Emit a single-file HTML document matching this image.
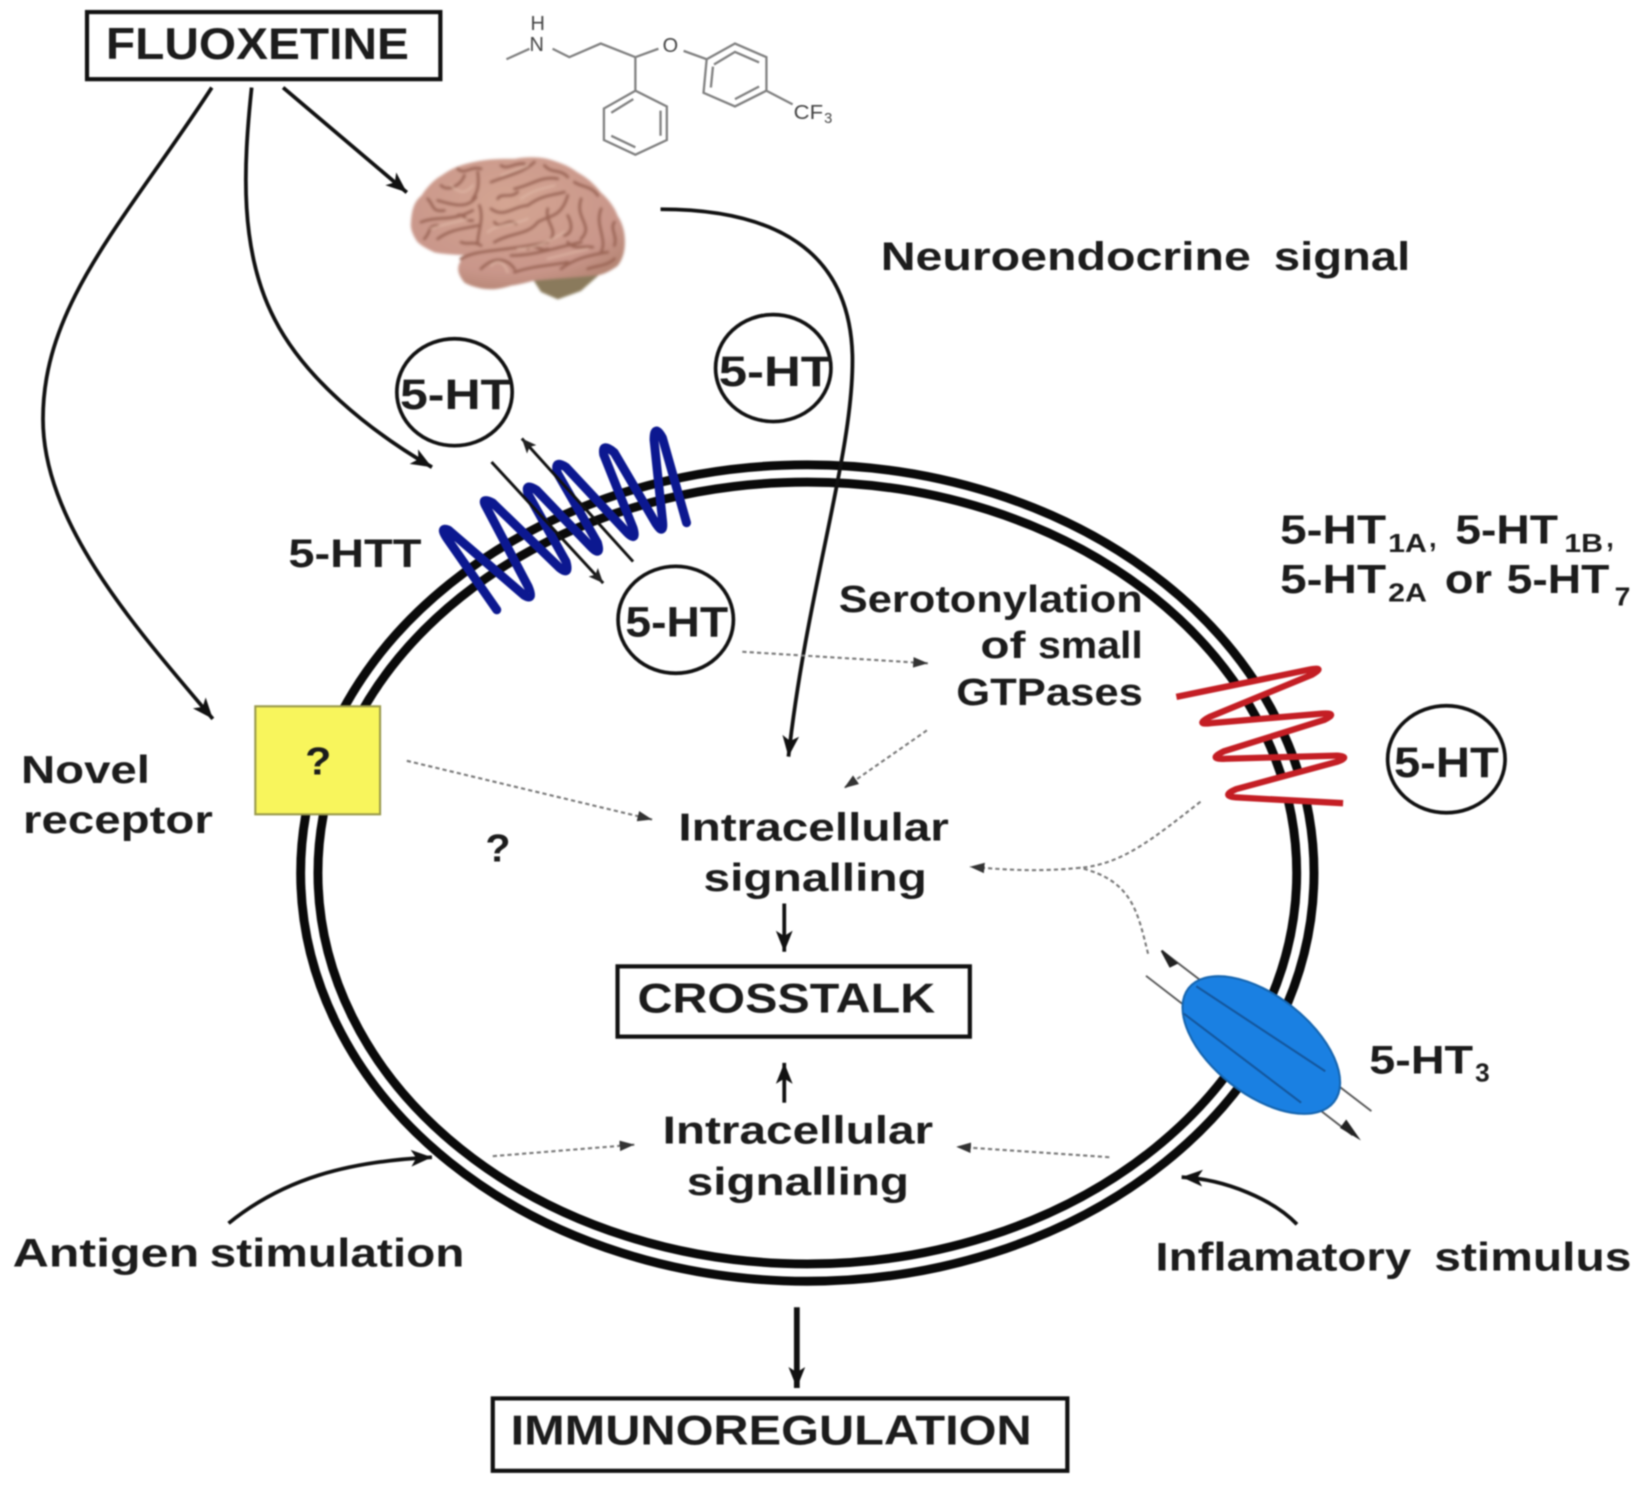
<!DOCTYPE html>
<html><head><meta charset="utf-8"><style>
html,body{margin:0;padding:0;background:#fff}
svg{display:block;filter:blur(.9px)}
text{font-family:"Liberation Sans",Arial,sans-serif;font-weight:bold;fill:#1c1c1c}
</style></head><body>
<svg width="1644" height="1486" viewBox="0 0.5 1568 1417" preserveAspectRatio="none" xmlns="http://www.w3.org/2000/svg">
<defs>
<marker id="a" markerUnits="userSpaceOnUse" markerWidth="24" markerHeight="18" refX="20" refY="8" orient="auto"><path d="M0,0L20,8L0,16L5,8Z" fill="#111"/></marker>
<marker id="s" markerUnits="userSpaceOnUse" markerWidth="16" markerHeight="14" refX="14" refY="6" orient="auto"><path d="M0,0L14,6L0,12L3,6Z" fill="#222"/></marker>
<marker id="d" markerUnits="userSpaceOnUse" markerWidth="16" markerHeight="14" refX="14" refY="5" orient="auto"><path d="M0,0L14,5L0,10Z" fill="#333"/></marker>
<radialGradient id="br" cx=".45" cy=".35" r=".75"><stop offset="0" stop-color="#d4a592"/><stop offset=".7" stop-color="#c9968a"/><stop offset="1" stop-color="#ae7f6c"/></radialGradient>
<filter id="bl" x="-5%" y="-5%" width="110%" height="110%"><feGaussianBlur stdDeviation="1.300"/></filter>
</defs>
<rect x="0" y="0" width="1600" height="1450" fill="#fff"/>

<!-- membrane -->
<ellipse cx="770" cy="833" rx="475" ry="381" fill="none" stroke="#0a0a0a" stroke-width="25"/>
<ellipse cx="770" cy="833" rx="475" ry="381" fill="none" stroke="#fff" stroke-width="8"/>

<!-- molecule -->
<g fill="none" stroke="#808080" stroke-width="2.200">
<path d="M483,57L505,47M527,47L543,55L573,42L606,55L628,47M652,49L674,57L701,42L731,55L731,87L701,102L671,89L674,57M731,87L756,100"/>
<path d="M681,62L701,50L724,60M724,83L701,95M678,84L680,64"/>
<path d="M606,55L606,87L636,102L636,134L606,148L576,134L576,104L606,87"/>
<path d="M630,106L630,130M606,141L583,130M583,108L604,95"/>
</g>
<text x="506" y="29" font-size="19" style="font-weight:normal;fill:#444">H</text><text x="505" y="49" font-size="19" style="font-weight:normal;fill:#444">N</text><text x="632" y="50" font-size="19" style="font-weight:normal;fill:#444">O</text><text x="757" y="114" font-size="19" style="font-weight:normal;fill:#444" textLength="28" lengthAdjust="spacingAndGlyphs">CF</text><text x="786" y="118" font-size="14" style="font-weight:normal;fill:#444">3</text>

<!-- brain -->
<g filter="url(#bl)">
<path d="M509,268L516,279L532,286L554,278L572,262Z" fill="#8a7a5c"/>
<path d="M392,212C393,198 396,192 402,187C408,178 414,172 421,168C432,160 442,157 452,155C465,152 478,152 491,152C502,150 512,150 522,152C532,155 542,158 551,165C560,170 567,176 573,184C580,190 586,198 589,206C594,214 596,222 596,231C596,240 594,248 589,254C582,259 576,262 570,263C550,265 530,266 510,268C502,270 495,272 487,273C478,276 470,277 462,276C455,275 448,273 443,270C439,265 437,261 437,257C437,252 440,248 443,244C433,243 423,243 414,241C408,238 402,235 398,231C394,225 391,219 392,212Z" fill="url(#br)"/>
<g transform="translate(382.500,136) scale(.318)" fill="none" stroke="#9c6656" stroke-width="9" stroke-linecap="round">
<path d="M110,175C160,190 200,200 225,165M230,90C235,130 230,150 215,170M270,120C320,100 370,90 400,60M340,140C390,130 420,100 470,110"/>
<path d="M60,240C110,220 150,240 215,205M110,290C150,260 190,260 230,250M235,190C250,230 230,270 230,300M270,200C310,230 340,190 380,190C420,160 450,160 490,150"/>
<path d="M280,300C330,270 380,280 410,240C440,220 480,230 500,160M180,350C230,320 300,330 440,300M330,340C400,340 450,320 540,300M480,380C520,350 560,340 620,330"/>
<path d="M540,170C520,230 580,250 540,290M600,200C580,250 620,290 600,330M240,380C280,340 320,350 340,380M340,390C400,370 450,370 500,360M120,130C140,150 180,130 190,100M70,290C90,270 80,250 110,250"/>
<path d="M290,170C300,150 330,170 350,150M440,200C430,240 470,260 450,290M490,280C520,270 510,240 500,220M560,380C590,370 620,370 640,350"/>
<path d="M170,80C190,100 210,70 240,80M300,70C320,85 340,60 370,65M430,70C450,95 480,80 500,105M520,120C540,135 570,130 590,160M80,170C100,190 90,210 130,205M170,220C190,210 190,240 215,235M640,240C625,260 650,280 640,310M180,300C200,310 215,295 240,310M280,240C300,265 320,225 345,245M380,320C395,300 420,330 440,320M500,300C520,325 540,310 575,315"/>
</g>
<g transform="translate(382.500,136) scale(.318)" fill="none" stroke="#e2bcaa" stroke-width="6" stroke-linecap="round" opacity=".7">
<path d="M150,130C180,160 200,150 215,130M300,100C340,85 360,80 380,70M360,170C400,140 430,140 460,130M90,260C130,245 170,240 200,230M260,270C300,240 340,250 380,230M350,320C400,320 440,300 490,270M270,370C290,350 310,360 320,390M440,350C480,340 520,330 560,320"/>
</g>
</g>

<!-- solid connectors -->
<g fill="none" stroke="#111" stroke-width="3.600">
<path d="M202,84C120,210 41,290 41,400C41,500 130,600 203,686" marker-end="url(#a)"/>
<path d="M240,84C232,160 228,240 262,305C290,360 350,410 412,446" marker-end="url(#a)"/>
<path d="M270,84L388,184" marker-end="url(#a)"/>
<path d="M630,200C740,200 810,240 813,339C815,430 770,560 752,722" marker-end="url(#a)"/>
<path d="M748,862V908" marker-end="url(#a)"/>
<path d="M748,1052V1014" marker-end="url(#a)"/>
<path d="M760,1247V1324" stroke-width="5.500" marker-end="url(#a)"/>
<path d="M218,1167C270,1125 330,1108 412,1104" marker-end="url(#a)"/>
<path d="M1237,1168C1215,1145 1170,1125 1127,1123" marker-end="url(#a)"/>
</g>

<!-- dashed -->
<g fill="none" stroke="#777" stroke-width="2" stroke-dasharray="4 3">
<path d="M708,622L885,633" marker-end="url(#d)"/>
<path d="M884,697L805,752" marker-end="url(#d)"/>
<path d="M388,726L622,782" marker-end="url(#d)"/>
<path d="M1145,765C1100,800 1070,825 1030,828C990,832 960,830 925,827" marker-end="url(#d)"/>
<path d="M1095,910C1085,870 1080,840 1030,828"/>
<path d="M470,1103L605,1092" marker-end="url(#d)"/>
<path d="M1058,1104L912,1094" marker-end="url(#d)"/>
</g>

<!-- transporter -->
<g transform="translate(1.800,2)">
<path d="M472,580L426,514Q416,500 426,504L498,566Q508,572 502,558L462,482Q456,472 468,478L532,540Q542,548 538,534L502,470Q498,458 510,466L562,520Q572,530 568,516L530,450Q526,436 538,444L596,506Q606,516 602,502L574,432Q572,420 584,430L624,498Q632,510 630,494L622,418Q622,402 630,416L653,497" fill="none" stroke="#0c1890" stroke-width="8.500" stroke-linejoin="round" stroke-linecap="round"/>
<g fill="none" stroke="#111" stroke-width="2.800">
<path d="M467,439L573.500,554.500" marker-end="url(#s)"/>
<path d="M602,534L495.900,416.600" marker-end="url(#s)"/>
</g>
</g>

<!-- red receptor -->
<g transform="translate(-1,-2)">
<path d="M1123,667L1260,640L1145.500,692ZM1145.500,692L1272.600,682.600L1158,725.500ZM1283.800,724L1169,760.700L1282,768.400Z" fill="#fff"/>
<path d="M1123,667L1250,641Q1266,638 1252,646L1155,686Q1140,694 1156,692L1262,683Q1278,682 1264,689L1168,719Q1152,727 1170,726L1276,723Q1290,724 1276,729L1180,755Q1164,762 1182,763L1282,768.400" fill="none" stroke="#c41e24" stroke-width="6" stroke-linejoin="round"/>
</g>

<!-- 5-HT3 -->
<path d="M1108,907L1308,1060" stroke="#555" stroke-width="1.800" fill="none"/>
<path d="M1093,931L1290,1083" stroke="#555" stroke-width="1.800" fill="none"/>
<path d="M1122,919L1108,907L1116,922Z" fill="#222" stroke="#222" stroke-width="2"/>
<path d="M1278,1076L1298,1088L1284,1068Z" fill="#222"/>
<ellipse cx="1203" cy="997" rx="88" ry="47" transform="rotate(38 1203 997)" fill="#1a80e2" stroke="#1565b0" stroke-width="2"/>
<path d="M1141,941L1264,1022M1129,967L1241,1052" stroke="#14569c" stroke-width="2" fill="none"/>

<!-- circles -->
<g transform="translate(1.500,1.500)">
<g fill="none" stroke="#111" stroke-width="3.500">
<ellipse cx="432" cy="373" rx="55" ry="51"/>
<ellipse cx="736" cy="350" rx="55" ry="51"/>
<ellipse cx="643" cy="590" rx="55" ry="51"/>
<ellipse cx="1378" cy="723" rx="56" ry="51"/>
</g>
<text x="380" y="389" font-size="41" textLength="106" lengthAdjust="spacingAndGlyphs">5-HT</text>
<text x="684" y="367" font-size="41" textLength="108" lengthAdjust="spacingAndGlyphs">5-HT</text>
<text x="595" y="606" font-size="41" textLength="98" lengthAdjust="spacingAndGlyphs">5-HT</text>
<text x="1328" y="740" font-size="41" textLength="100" lengthAdjust="spacingAndGlyphs">5-HT</text>
</g>

<!-- boxes -->
<rect x="83" y="12" width="337" height="64" fill="#fff" stroke="#111" stroke-width="4"/>
<rect x="589" y="922" width="336" height="67" fill="#fff" stroke="#111" stroke-width="4"/>
<rect x="470" y="1334" width="548" height="69" fill="#fff" stroke="#111" stroke-width="4"/>
<rect x="243.500" y="674" width="119" height="103" fill="#f8f55c" stroke="#99994a" stroke-width="2"/>

<!-- labels -->
<text x="101" y="57" font-size="42" textLength="289" lengthAdjust="spacingAndGlyphs">FLUOXETINE</text>
<text x="840" y="258" font-size="38" textLength="353" lengthAdjust="spacingAndGlyphs">Neuroendocrine</text>
<text x="1215" y="258" font-size="38" textLength="130" lengthAdjust="spacingAndGlyphs">signal</text>
<text x="275" y="541" font-size="38" textLength="127" lengthAdjust="spacingAndGlyphs">5-HTT</text>
<text x="800" y="584" font-size="36" textLength="290" lengthAdjust="spacingAndGlyphs">Serotonylation</text>
<text x="935" y="628" font-size="36" textLength="43" lengthAdjust="spacingAndGlyphs">of</text>
<text x="990" y="628" font-size="36" textLength="100" lengthAdjust="spacingAndGlyphs">small</text>
<text x="912" y="673" font-size="36" textLength="178" lengthAdjust="spacingAndGlyphs">GTPases</text>

<text x="1221" y="519" font-size="39" textLength="101" lengthAdjust="spacingAndGlyphs">5-HT</text>
<text x="1324" y="527" font-size="25" textLength="37" lengthAdjust="spacingAndGlyphs">1A</text>
<text x="1363" y="522" font-size="26">,</text>
<text x="1388" y="519" font-size="39" textLength="98" lengthAdjust="spacingAndGlyphs">5-HT</text>
<text x="1492" y="527" font-size="25" textLength="37" lengthAdjust="spacingAndGlyphs">1B</text>
<text x="1532" y="522" font-size="26">,</text>
<text x="1221" y="566" font-size="39" textLength="101" lengthAdjust="spacingAndGlyphs">5-HT</text>
<text x="1324" y="574" font-size="25" textLength="37" lengthAdjust="spacingAndGlyphs">2A</text>
<text x="1378" y="566" font-size="39" textLength="45" lengthAdjust="spacingAndGlyphs">or</text>
<text x="1437" y="566" font-size="39" textLength="98" lengthAdjust="spacingAndGlyphs">5-HT</text>
<text x="1540" y="578" font-size="25" textLength="15" lengthAdjust="spacingAndGlyphs">7</text>

<text x="20" y="747" font-size="37" textLength="123" lengthAdjust="spacingAndGlyphs">Novel</text>
<text x="22" y="795" font-size="37" textLength="181" lengthAdjust="spacingAndGlyphs">receptor</text>
<text x="291" y="739" font-size="37" textLength="25" lengthAdjust="spacingAndGlyphs">?</text>
<text x="463" y="822" font-size="37" textLength="24" lengthAdjust="spacingAndGlyphs">?</text>
<text x="647" y="802" font-size="37" textLength="258" lengthAdjust="spacingAndGlyphs">Intracellular</text>
<text x="671" y="850" font-size="37" textLength="213" lengthAdjust="spacingAndGlyphs">signalling</text>
<text x="608" y="966" font-size="40" textLength="284" lengthAdjust="spacingAndGlyphs">CROSSTALK</text>
<text x="632" y="1091" font-size="37" textLength="258" lengthAdjust="spacingAndGlyphs">Intracellular</text>
<text x="655" y="1140" font-size="37" textLength="212" lengthAdjust="spacingAndGlyphs">signalling</text>
<text x="1306" y="1024" font-size="38" textLength="99" lengthAdjust="spacingAndGlyphs">5-HT</text>
<text x="1407" y="1032" font-size="25">3</text>
<text x="12" y="1208" font-size="38" textLength="178" lengthAdjust="spacingAndGlyphs">Antigen</text>
<text x="200" y="1208" font-size="38" textLength="243" lengthAdjust="spacingAndGlyphs">stimulation</text>
<text x="1102" y="1212" font-size="38" textLength="244" lengthAdjust="spacingAndGlyphs">Inflamatory</text>
<text x="1368" y="1212" font-size="38" textLength="188" lengthAdjust="spacingAndGlyphs">stimulus</text>
<text x="487" y="1378" font-size="40" textLength="497" lengthAdjust="spacingAndGlyphs">IMMUNOREGULATION</text>
</svg>
</body></html>
